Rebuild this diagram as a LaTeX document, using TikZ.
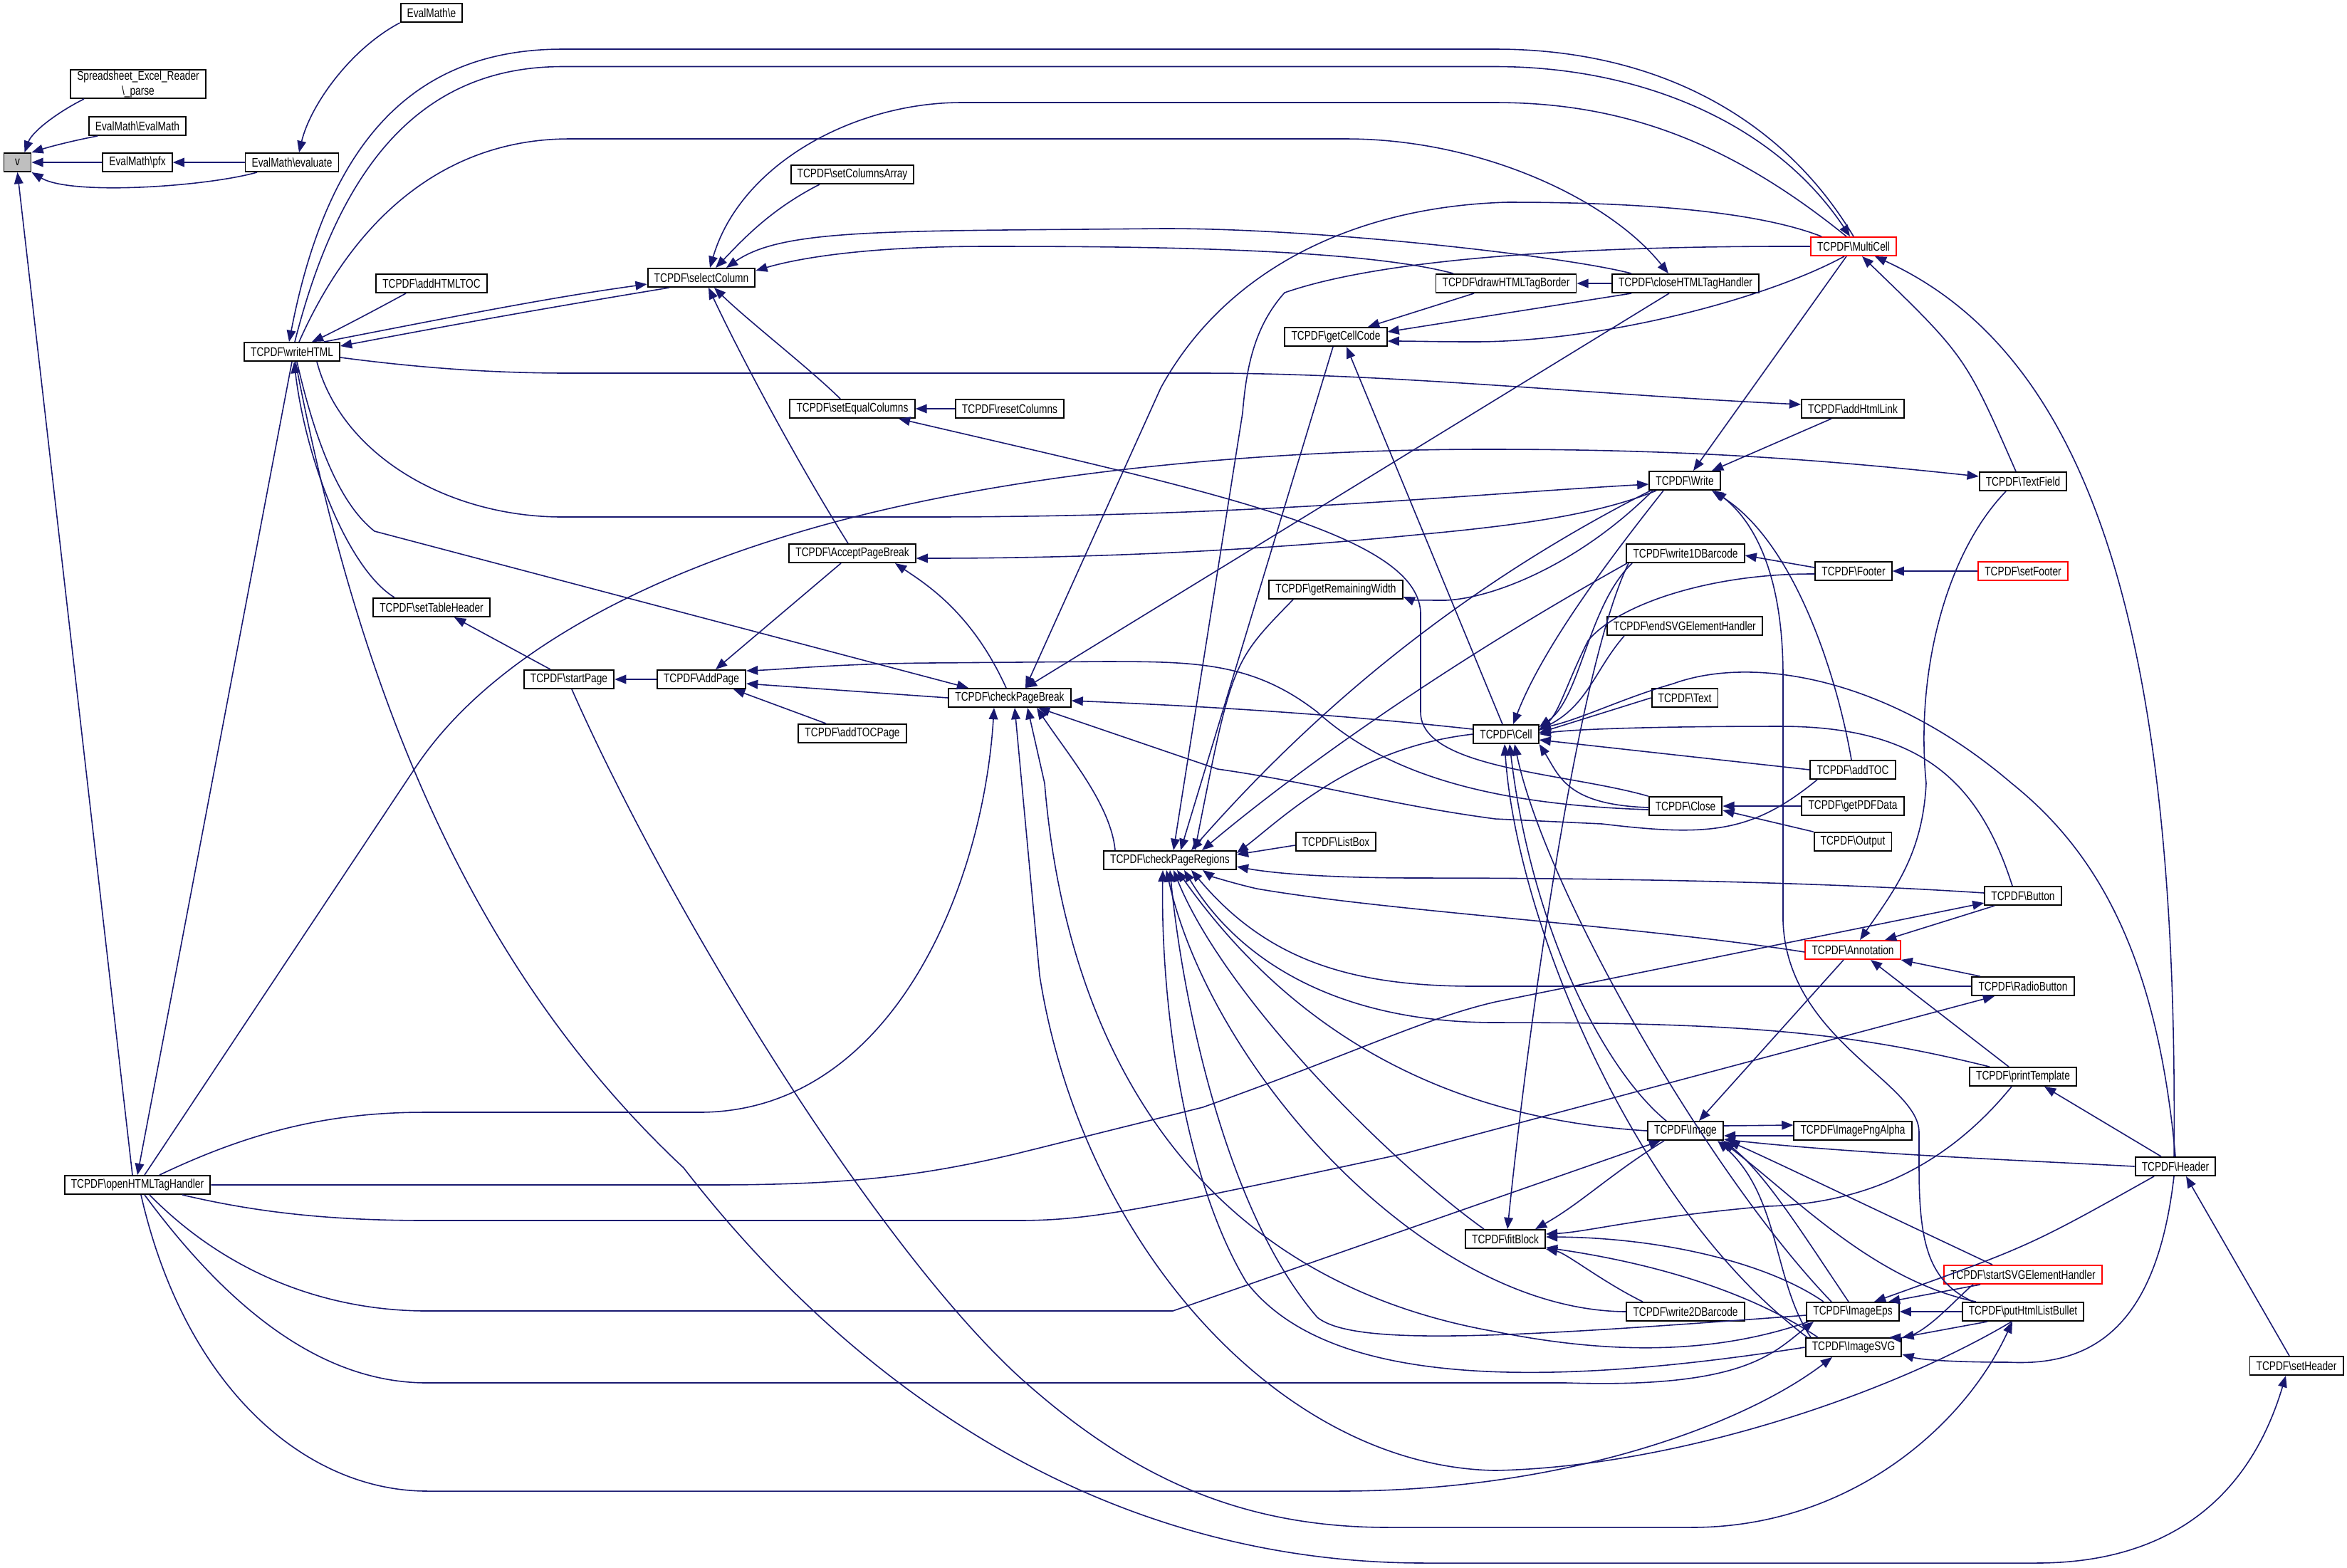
\documentclass[tikz,border=0pt]{standalone}
\usepackage{fontspec}
\setmainfont{Liberation Sans}[FakeStretch=0.78]
\usepackage{tikz}
\usetikzlibrary{arrows.meta}
\definecolor{edgeblue}{HTML}{191970}
\begin{document}
\begin{tikzpicture}[
  fn/.style={draw, fill=white, line width=0.55pt, inner xsep=2.6pt, inner ysep=0pt, minimum height=0.26cm, font=\fontsize{5}{6}\selectfont},
  rn/.style={fn, draw=red},
  edge/.style={draw=edgeblue, line width=0.45pt, -{Triangle[length=4.6pt,width=3.6pt]}}]
  \useasboundingbox (0,0) rectangle (32.96,-22.01);
  \node[fn, fill=black!25, minimum width=0.38cm] (v) at (0.245,-2.28) {v};
  \node[fn, align=center, minimum height=0.4cm] (parse) at (1.94,-1.18) {Spreadsheet\_Excel\_Reader\\\textbackslash\_parse};
  \node[fn] (evalmath) at (1.93,-1.77) {EvalMath\textbackslash EvalMath};
  \node[fn] (pfx) at (1.93,-2.28) {EvalMath\textbackslash pfx};
  \node[fn] (evaluate) at (4.10,-2.28) {EvalMath\textbackslash evaluate};
  \node[fn] (e) at (6.06,-0.18) {EvalMath\textbackslash e};
  \node[fn] (writeHTML) at (4.10,-4.94) {TCPDF\textbackslash writeHTML};
  \node[fn] (addHTMLTOC) at (6.06,-3.98) {TCPDF\textbackslash addHTMLTOC};
  \node[fn] (setTableHeader) at (6.06,-8.53) {TCPDF\textbackslash setTableHeader};
  \node[fn] (startPage) at (7.99,-9.54) {TCPDF\textbackslash startPage};
  \node[fn] (selectColumn) at (9.85,-3.90) {TCPDF\textbackslash selectColumn};
  \node[fn] (AddPage) at (9.85,-9.54) {TCPDF\textbackslash AddPage};
  \node[fn] (setColumnsArray) at (11.97,-2.45) {TCPDF\textbackslash setColumnsArray};
  \node[fn] (setEqualColumns) at (11.97,-5.74) {TCPDF\textbackslash setEqualColumns};
  \node[fn] (AcceptPageBreak) at (11.97,-7.77) {TCPDF\textbackslash AcceptPageBreak};
  \node[fn] (addTOCPage) at (11.97,-10.30) {TCPDF\textbackslash addTOCPage};
  \node[fn] (resetColumns) at (14.18,-5.74) {TCPDF\textbackslash resetColumns};
  \node[fn] (checkPageBreak) at (14.18,-9.80) {TCPDF\textbackslash checkPageBreak};
  \node[fn] (checkPageRegions) at (16.43,-12.08) {TCPDF\textbackslash checkPageRegions};
  \node[fn] (getCellCode) at (18.76,-4.73) {TCPDF\textbackslash getCellCode};
  \node[fn] (getRemainingWidth) at (18.76,-8.28) {TCPDF\textbackslash getRemainingWidth};
  \node[fn] (ListBox) at (18.76,-11.82) {TCPDF\textbackslash ListBox};
  \node[fn] (drawHTMLTagBorder) at (21.15,-3.98) {TCPDF\textbackslash drawHTMLTagBorder};
  \node[fn] (Cell) at (21.15,-10.31) {TCPDF\textbackslash Cell};
  \node[fn] (fitBlock) at (21.14,-17.40) {TCPDF\textbackslash fitBlock};
  \node[fn] (closeHTML) at (23.67,-3.98) {TCPDF\textbackslash closeHTMLTagHandler};
  \node[fn] (Write) at (23.66,-6.75) {TCPDF\textbackslash Write};
  \node[fn] (write1DBarcode) at (23.67,-7.77) {TCPDF\textbackslash write1DBarcode};
  \node[fn] (endSVG) at (23.66,-8.79) {TCPDF\textbackslash endSVGElementHandler};
  \node[fn] (Text) at (23.66,-9.80) {TCPDF\textbackslash Text};
  \node[fn] (Close) at (23.67,-11.32) {TCPDF\textbackslash Close};
  \node[fn] (Image) at (23.67,-15.88) {TCPDF\textbackslash Image};
  \node[fn] (write2DBarcode) at (23.67,-18.42) {TCPDF\textbackslash write2DBarcode};
  \node[rn] (MultiCell) at (26.03,-3.46) {TCPDF\textbackslash MultiCell};
  \node[fn] (addHtmlLink) at (26.02,-5.74) {TCPDF\textbackslash addHtmlLink};
  \node[fn] (Footer) at (26.03,-8.02) {TCPDF\textbackslash Footer};
  \node[fn] (addTOC) at (26.02,-10.81) {TCPDF\textbackslash addTOC};
  \node[fn] (getPDFData) at (26.02,-11.32) {TCPDF\textbackslash getPDFData};
  \node[fn] (Output) at (26.02,-11.82) {TCPDF\textbackslash Output};
  \node[rn] (Annotation) at (26.02,-13.34) {TCPDF\textbackslash Annotation};
  \node[fn] (ImagePngAlpha) at (26.02,-15.88) {TCPDF\textbackslash ImagePngAlpha};
  \node[fn] (ImageEps) at (26.02,-18.42) {TCPDF\textbackslash ImageEps};
  \node[fn] (ImageSVG) at (26.03,-18.92) {TCPDF\textbackslash ImageSVG};
  \node[fn] (TextField) at (28.41,-6.76) {TCPDF\textbackslash TextField};
  \node[rn] (setFooter) at (28.41,-8.02) {TCPDF\textbackslash setFooter};
  \node[fn] (Button) at (28.41,-12.58) {TCPDF\textbackslash Button};
  \node[fn] (RadioButton) at (28.41,-13.85) {TCPDF\textbackslash RadioButton};
  \node[fn] (printTemplate) at (28.41,-15.12) {TCPDF\textbackslash printTemplate};
  \node[rn] (startSVG) at (28.41,-17.90) {TCPDF\textbackslash startSVGElementHandler};
  \node[fn] (putHtmlListBullet) at (28.41,-18.42) {TCPDF\textbackslash putHtmlListBullet};
  \node[fn] (Header) at (30.55,-16.38) {TCPDF\textbackslash Header};
  \node[fn] (setHeader) at (32.25,-19.18) {TCPDF\textbackslash setHeader};
  \node[fn] (openHTML) at (1.93,-16.64) {TCPDF\textbackslash openHTMLTagHandler};
  \draw[edge] ([xshift=-0.76cm]parse.south) .. controls (0.8,-1.58) and (0.45,-1.85) .. ([xshift=0.1cm]v.north);
  \draw[edge] ([xshift=-0.56cm]evalmath.south) .. controls (1.0,-1.98) and (0.7,-2.06) .. (v.north east);
  \draw[edge] (pfx) -- (v);
  \draw[edge] (evaluate) -- (pfx);
  \draw[edge] ([xshift=-0.49cm]evaluate.south) .. controls (2.9,-2.62) and (1.0,-2.75) .. (v.south east);
  \draw[edge] (e.south west) .. controls (4.9,-0.7) and (4.35,-1.5) .. ([xshift=0.1cm]evaluate.north);
  \draw[edge] ([xshift=-0.07cm]openHTML.north) -- (v.south);
  \draw[edge] (writeHTML.south) -- (openHTML.north);
  \draw[edge] (MultiCell.north) .. controls (25.0,-1.6) and (23.2,-0.69) .. (21.0,-0.69) -- (7.9,-0.69) .. controls (5.8,-0.69) and (4.6,-2.0) .. ([xshift=-0.04cm]writeHTML.north);
  \draw[edge] ([xshift=0.04cm]writeHTML.north) .. controls (4.8,-2.2) and (6.0,-0.935) .. (7.9,-0.935) -- (21.0,-0.935) .. controls (23.0,-0.935) and (24.9,-1.7) .. ([xshift=-0.05cm]MultiCell.north);
  \draw[edge] ([xshift=0.1cm]writeHTML.north) .. controls (5.0,-3.0) and (6.3,-1.95) .. (8.0,-1.95) -- (18.9,-1.95) .. controls (20.8,-1.95) and (22.6,-2.8) .. ([xshift=-0.24cm]closeHTML.north);
  \draw[edge] ([xshift=-0.36cm]addHTMLTOC.south) .. controls (5.0,-4.5) and (4.6,-4.7) .. ([xshift=0.28cm]writeHTML.north);
  \draw[edge] ([xshift=0.45cm]writeHTML.north) .. controls (6.3,-4.46) and (7.7,-4.18) .. ([yshift=-0.09cm]selectColumn.west);
  \draw[edge] ([xshift=-0.45cm]selectColumn.south) .. controls (7.7,-4.32) and (6.3,-4.57) .. ([yshift=0.08cm]writeHTML.east);
  \draw[edge] ([yshift=-0.08cm]writeHTML.east) .. controls (6.0,-5.18) and (7.0,-5.24) .. (8.0,-5.24) -- (16.9,-5.24) .. controls (19.5,-5.24) and (22.5,-5.55) .. ([yshift=0.06cm]addHtmlLink.west);
  \draw[edge] ([xshift=0.35cm]writeHTML.south) .. controls (4.8,-6.4) and (6.3,-7.26) .. (7.9,-7.26) -- (13.0,-7.26) .. controls (17.5,-7.26) and (20.5,-6.95) .. ([yshift=-0.05cm]Write.west);
  \draw[edge] ([xshift=0.07cm]writeHTML.south) .. controls (4.45,-6.3) and (4.8,-7.1) .. (5.26,-7.46) -- ([xshift=-0.58cm]checkPageBreak.north);
  \draw[edge] ([xshift=-0.52cm]setTableHeader.north) .. controls (4.9,-8.0) and (4.3,-6.5) .. ([xshift=0.03cm]writeHTML.south);
  \draw[edge] ([xshift=0.05cm]writeHTML.south) .. controls (5.0,-9.5) and (6.5,-13.5) .. (9.6,-16.4) .. controls (12.0,-19.5) and (15.5,-21.95) .. (20.0,-21.95) -- (28.6,-21.95) .. controls (30.5,-21.95) and (31.6,-21.0) .. ([xshift=-0.15cm]setHeader.south);
  \draw[edge] ([xshift=0.04cm]startPage.south) .. controls (9.5,-13.0) and (12.5,-17.8) .. (14.5,-19.5) .. controls (16.0,-20.8) and (17.5,-21.45) .. (19.5,-21.45) -- (23.75,-21.45) .. controls (26.0,-21.45) and (27.6,-20.0) .. ([xshift=-0.15cm]putHtmlListBullet.south);
  \draw[edge] ([xshift=-0.1cm]MultiCell.north) .. controls (24.3,-2.0) and (22.8,-1.44) .. (21.0,-1.44) -- (13.5,-1.44) .. controls (12.0,-1.44) and (10.4,-2.3) .. ([xshift=0.12cm]selectColumn.north);
  \draw[edge] ([xshift=-0.46cm]setColumnsArray.south) .. controls (10.8,-2.95) and (10.4,-3.4) .. ([xshift=0.2cm]selectColumn.north);
  \draw[edge] ([xshift=-0.76cm]closeHTML.north) .. controls (22.0,-3.6) and (18.5,-3.2) .. (16.3,-3.21) .. controls (12.5,-3.25) and (11.0,-3.2) .. ([xshift=0.35cm]selectColumn.north);
  \draw[edge] ([xshift=-0.74cm]drawHTMLTagBorder.north) .. controls (19.0,-3.46) and (15.5,-3.46) .. (13.83,-3.46) .. controls (12.3,-3.46) and (11.3,-3.6) .. ([yshift=0.1cm]selectColumn.east);
  \draw[edge] ([xshift=-0.17cm]setEqualColumns.north) .. controls (11.4,-5.2) and (10.5,-4.5) .. ([xshift=0.18cm]selectColumn.south);
  \draw[edge] ([xshift=-0.06cm]AcceptPageBreak.north) .. controls (11.2,-6.5) and (10.4,-5.0) .. ([xshift=0.1cm]selectColumn.south);
  \draw[edge] (resetColumns) -- (setEqualColumns);
  \draw[edge] (Close.north west) .. controls (22.0,-10.85) and (19.95,-10.8) .. (19.95,-10.0) -- (19.95,-8.6) .. controls (19.9,-7.5) and (17.0,-6.9) .. ([xshift=0.65cm]setEqualColumns.south);
  \draw[edge] ([yshift=-0.05cm]Close.west) .. controls (21.0,-11.3) and (19.5,-10.9) .. (18.5,-10.0) .. controls (17.6,-9.3) and (16.8,-9.29) .. (15.5,-9.29) -- (13.06,-9.31) .. controls (11.8,-9.32) and (11.0,-9.4) .. ([yshift=0.12cm]AddPage.east);
  \draw[edge] ([xshift=-0.5cm]addTOC.south) .. controls (24.6,-11.7) and (24.0,-11.75) .. (22.5,-11.57) -- (21.0,-11.5) .. controls (19.5,-11.3) and (18.5,-11.0) .. (17.1,-10.8) -- ([xshift=0.4cm]checkPageBreak.south);
  \draw[edge] (getPDFData) -- (Close);
  \draw[edge] (Output.north west) -- ([yshift=-0.06cm]Close.east);
  \draw[edge] ([xshift=-0.05cm]checkPageBreak.north) .. controls (13.65,-8.6) and (13.0,-8.2) .. ([xshift=0.6cm]AcceptPageBreak.south);
  \draw[edge] (checkPageBreak.west) -- ([yshift=-0.06cm]AddPage.east);
  \draw[edge] ([xshift=-0.16cm]AcceptPageBreak.south) -- ([xshift=0.2cm]AddPage.north);
  \draw[edge] ([xshift=-0.37cm]addTOCPage.north) -- ([xshift=0.45cm]AddPage.south);
  \draw[edge] (AddPage) -- (startPage);
  \draw[edge] ([xshift=-0.26cm]startPage.north) -- ([xshift=0.32cm]setTableHeader.south);
  \draw[edge] ([yshift=0.07cm]Cell.west) .. controls (18.5,-10.0) and (16.5,-9.9) .. ([yshift=-0.04cm]checkPageBreak.east);
  \draw[edge] ([xshift=-0.45cm]MultiCell.north) .. controls (24.5,-2.9) and (22.5,-2.84) .. (21.17,-2.84) .. controls (19.0,-2.9) and (17.2,-3.8) .. (16.3,-5.45) -- ([xshift=0.22cm]checkPageBreak.north);
  \draw[edge] ([xshift=-0.23cm]closeHTML.south) -- ([xshift=0.22cm]checkPageBreak.north);
  \draw[edge] ([xshift=-0.77cm]checkPageRegions.north) .. controls (15.6,-11.3) and (15.0,-10.6) .. ([xshift=0.38cm]checkPageBreak.south);
  \draw[edge] ([xshift=-0.16cm]putHtmlListBullet.south) .. controls (26.5,-19.6) and (23.5,-20.6) .. (21.0,-20.65) .. controls (18.0,-20.6) and (15.2,-17.5) .. (14.6,-13.7) -- ([xshift=0.07cm]checkPageBreak.south);
  \draw[edge] ([xshift=-0.62cm]ImageEps.south) .. controls (24.0,-19.05) and (22.5,-19.0) .. (21.0,-18.7) .. controls (17.0,-18.0) and (15.0,-15.0) .. (14.67,-11.0) -- ([xshift=0.25cm]checkPageBreak.south);
  \draw[edge] ([xshift=-0.05cm]Cell.north) -- ([xshift=0.15cm]getCellCode.south);
  \draw[edge] ([xshift=-0.13cm]MultiCell.south) .. controls (24.8,-4.2) and (22.5,-4.8) .. (20.7,-4.8) .. controls (20.2,-4.8) and (19.8,-4.79) .. ([yshift=-0.06cm]getCellCode.east);
  \draw[edge] ([xshift=-0.76cm]closeHTML.south) -- ([yshift=0.07cm]getCellCode.east);
  \draw[edge] ([xshift=-0.45cm]drawHTMLTagBorder.south) -- ([xshift=0.45cm]getCellCode.north);
  \draw[edge] (closeHTML) -- (drawHTMLTagBorder);
  \draw[edge] (MultiCell.west) .. controls (22.5,-3.45) and (19.5,-3.6) .. (18.04,-4.11) .. controls (17.6,-4.6) and (17.5,-5.2) .. (17.45,-5.8) -- ([xshift=0.05cm]checkPageRegions.north);
  \draw[edge] ([xshift=-0.04cm]getCellCode.south) -- ([xshift=0.15cm]checkPageRegions.north);
  \draw[edge] ([xshift=-0.6cm]getRemainingWidth.south) .. controls (17.3,-9.3) .. ([xshift=0.35cm]checkPageRegions.north);
  \draw[edge] ([xshift=-0.45cm]Write.south) .. controls (22.2,-7.9) and (21.0,-8.4) .. (20.3,-8.43) .. controls (19.9,-8.43) and (19.8,-8.42) .. ([yshift=-0.1cm]getRemainingWidth.east);
  \draw[edge] ([xshift=-0.4cm]Write.south) .. controls (22.5,-7.2) and (21.5,-7.36) .. (20.0,-7.5) .. controls (17.0,-7.8) and (14.5,-7.84) .. ([yshift=-0.07cm]AcceptPageBreak.east);
  \draw[edge] ([xshift=-0.3cm]addHtmlLink.south) -- ([xshift=0.38cm]Write.north);
  \draw[edge] ([xshift=-0.1cm]MultiCell.south) -- ([xshift=0.12cm]Write.north);
  \draw[edge] ([xshift=-0.7cm]putHtmlListBullet.north) .. controls (27.1,-18.0) and (26.95,-17.5) .. (26.95,-16.4) -- (26.95,-15.9) .. controls (26.95,-15.2) and (25.1,-14.6) .. (25.04,-12.94) -- (25.04,-9.5) .. controls (25.04,-8.0) and (24.6,-7.3) .. ([xshift=0.42cm]Write.south);
  \draw[edge] ([xshift=-0.02cm]addTOC.north) .. controls (25.8,-9.5) and (25.2,-7.6) .. ([xshift=0.38cm]Write.south);
  \draw[edge] ([xshift=0.1cm]openHTML.north) -- (5.82,-10.8) .. controls (7.0,-9.0) and (9.5,-8.0) .. (11.0,-7.54) .. controls (14.0,-6.6) and (18.0,-6.3) .. (21.0,-6.31) .. controls (24.0,-6.31) and (26.0,-6.5) .. ([yshift=0.07cm]TextField.west);
  \draw[edge] ([xshift=-0.1cm]TextField.north) .. controls (27.6,-5.0) .. ([xshift=0.12cm]MultiCell.south);
  \draw[edge] ([xshift=-0.02cm]Header.north) .. controls (30.6,-9.0) and (29.4,-5.0) .. ([xshift=0.3cm]MultiCell.south);
  \draw[edge] ([xshift=-0.24cm]TextField.south) .. controls (27.3,-7.8) and (26.9,-9.5) .. (27.05,-11.0) .. controls (27.0,-12.0) and (26.6,-12.5) .. ([xshift=0.1cm]Annotation.north);
  \draw[edge] ([xshift=-0.4cm]Button.south) -- ([xshift=0.45cm]Annotation.north);
  \draw[edge] ([xshift=-0.6cm]RadioButton.north) -- (Annotation.south east);
  \draw[edge] ([xshift=-0.2cm]printTemplate.north) -- ([xshift=0.25cm]Annotation.south);
  \draw[edge] ([xshift=-0.13cm]Annotation.south) -- ([xshift=0.19cm]Image.north);
  \draw[edge] ([yshift=-0.03cm]Annotation.west) .. controls (23.0,-13.0) and (19.5,-12.8) .. (17.65,-12.48) .. controls (17.3,-12.4) and (17.0,-12.3) .. ([xshift=0.46cm]checkPageRegions.south);
  \draw[edge] ([yshift=0.04cm]Button.west) .. controls (25.0,-12.35) and (21.5,-12.33) .. (19.95,-12.33) .. controls (18.5,-12.33) and (17.8,-12.25) .. ([yshift=-0.09cm]checkPageRegions.east);
  \draw[edge] (RadioButton.west) -- (20.71,-13.85) .. controls (19.0,-13.85) and (17.8,-13.5) .. ([xshift=0.3cm]checkPageRegions.south);
  \draw[edge] ([xshift=-0.47cm]printTemplate.north) .. controls (26.0,-14.5) and (24.5,-14.36) .. (21.0,-14.36) .. controls (18.8,-14.36) and (17.4,-13.5) .. ([xshift=0.2cm]checkPageRegions.south);
  \draw[edge] ([yshift=-0.05cm]ListBox.west) -- ([yshift=0.08cm]checkPageRegions.east);
  \draw[edge] ([xshift=-0.2cm]Header.north) -- ([xshift=0.3cm]printTemplate.south);
  \draw[edge] ([xshift=-0.16cm]printTemplate.south) .. controls (27.4,-16.3) and (26.3,-16.9) .. (24.81,-16.94) .. controls (23.0,-17.1) and (22.3,-17.3) .. ([yshift=0.07cm]fitBlock.east);
  \draw[edge] ([yshift=0.07cm]Image.east) -- ([yshift=0.08cm]ImagePngAlpha.west);
  \draw[edge] ([yshift=-0.07cm]ImagePngAlpha.west) -- ([yshift=-0.07cm]Image.east);
  \draw[edge] (Header.west) .. controls (28.5,-16.3) and (26.0,-16.2) .. ([yshift=-0.12cm]Image.east);
  \draw[edge] ([xshift=-0.06cm]ImageEps.north) .. controls (25.3,-17.3) and (24.8,-16.5) .. (Image.south east);
  \draw[edge] ([xshift=-0.6cm]ImageSVG.north) .. controls (24.9,-18.0) and (25.0,-16.8) .. ([xshift=0.45cm]Image.south);
  \draw[edge] ([xshift=-0.43cm]startSVG.north) .. controls (25.58,-16.63) and (24.9,-16.3) .. ([xshift=0.6cm]Image.south);
  \draw[edge] ([xshift=-0.66cm]putHtmlListBullet.north) .. controls (26.3,-17.98) and (25.2,-16.8) .. ([xshift=0.5cm]Image.south);
  \draw[edge] ([xshift=-0.27cm]Image.north) .. controls (22.5,-15.0) and (21.5,-13.0) .. ([xshift=0.05cm]Cell.south);
  \draw[edge] (Image.west) .. controls (21.0,-15.75) and (18.5,-15.0) .. ([xshift=0.1cm]checkPageRegions.south);
  \draw[edge] ([xshift=0.17cm]openHTML.south) .. controls (3.2,-17.9) and (4.6,-18.41) .. (6.0,-18.41) -- (16.47,-18.41) -- ([xshift=-0.35cm]Image.south);
  \draw[edge] (openHTML.east) -- (10.0,-16.64) .. controls (12.0,-16.64) and (13.0,-16.5) .. (14.28,-16.2) -- (16.89,-15.55) .. controls (19.0,-14.8) and (20.0,-14.3) .. (21.0,-14.07) -- ([yshift=-0.1cm]Button.west);
  \draw[edge] ([xshift=0.63cm]openHTML.south) .. controls (3.5,-17.0) and (4.5,-17.14) .. (6.0,-17.14) -- (14.28,-17.14) .. controls (15.3,-17.14) and (16.0,-17.0) .. (19.72,-16.2) -- ([xshift=-0.4cm]RadioButton.south);
  \draw[edge] ([xshift=0.1cm]openHTML.south) .. controls (3.3,-18.5) and (4.6,-19.42) .. (6.0,-19.42) -- (22.0,-19.42) .. controls (24.5,-19.5) and (24.9,-19.0) .. ([xshift=-0.55cm]ImageEps.south);
  \draw[edge] ([xshift=0.05cm]openHTML.south) .. controls (2.6,-19.5) and (4.3,-20.94) .. (6.0,-20.94) -- (18.8,-20.94) .. controls (22.0,-20.94) and (24.5,-20.0) .. ([xshift=-0.3cm]ImageSVG.south);
  \draw[edge] ([xshift=0.31cm]openHTML.north) .. controls (3.5,-15.9) and (4.6,-15.62) .. (5.96,-15.62) -- (9.82,-15.62) .. controls (12.5,-15.62) and (13.8,-12.5) .. ([xshift=-0.22cm]checkPageBreak.south);
  \draw[edge] ([xshift=-0.8cm]write1DBarcode.south) .. controls (22.1,-9.5) and (21.4,-15.0) .. ([xshift=0.03cm]fitBlock.north);
  \draw[edge] ([xshift=-0.3cm]fitBlock.north) .. controls (19.5,-16.3) and (17.2,-14.0) .. ([xshift=0.05cm]checkPageRegions.south);
  \draw[edge] ([xshift=-0.3cm]Image.south) .. controls (22.6,-16.5) and (22.2,-16.9) .. ([xshift=0.42cm]fitBlock.north);
  \draw[edge] ([xshift=-0.41cm]ImageEps.north) .. controls (24.8,-17.72) and (23.3,-17.38) .. ([yshift=0.03cm]fitBlock.east);
  \draw[edge] ([xshift=-0.5cm]ImageSVG.north) .. controls (24.6,-18.16) and (23.3,-17.75) .. ([yshift=-0.12cm]fitBlock.east);
  \draw[edge] ([xshift=-0.6cm]write2DBarcode.north) .. controls (22.5,-18.0) and (22.0,-17.6) .. (fitBlock.south east);
  \draw[edge] ([yshift=0.05cm]Footer.west) -- ([yshift=-0.03cm]write1DBarcode.east);
  \draw[edge] (setFooter) -- (Footer);
  \draw[edge] ([yshift=-0.04cm]Footer.west) .. controls (24.0,-8.05) and (22.7,-8.5) .. (22.3,-9.0) .. controls (22.0,-9.6) and (21.9,-10.0) .. ([yshift=0.05cm]Cell.east);
  \draw[edge] ([xshift=-0.3cm]Write.south) .. controls (22.8,-7.6) and (21.7,-9.0) .. ([xshift=0.1cm]Cell.north);
  \draw[edge] ([xshift=-0.75cm]write1DBarcode.south) .. controls (22.3,-8.5) and (22.2,-9.8) .. ([yshift=0.1cm]Cell.east);
  \draw[edge] ([xshift=-0.85cm]endSVG.south) .. controls (22.4,-9.4) and (22.3,-9.9) .. ([yshift=0.06cm]Cell.east);
  \draw[edge] (Text.west) -- ([yshift=0.02cm]Cell.east);
  \draw[edge] ([xshift=-0.15cm]Button.north) .. controls (27.8,-11.0) and (27.0,-10.2) .. (25.0,-10.2) .. controls (23.0,-10.2) and (22.0,-10.25) .. (Cell.east);
  \draw[edge] (addTOC.west) -- ([yshift=-0.08cm]Cell.east);
  \draw[edge] ([yshift=-0.02cm]Close.west) .. controls (22.0,-11.3) and (21.9,-10.9) .. (Cell.south east);
  \draw[edge] (Header.north) .. controls (30.3,-13.5) and (29.5,-12.0) .. (28.25,-11.0) .. controls (26.5,-9.5) and (24.6,-9.2) .. (23.5,-9.6) .. controls (22.8,-9.8) and (22.2,-10.1) .. ([yshift=0.08cm]Cell.east);
  \draw[edge] ([xshift=-0.3cm]ImageEps.north) .. controls (24.0,-16.5) and (21.7,-12.5) .. ([xshift=0.12cm]Cell.south);
  \draw[edge] ([xshift=-0.65cm]ImageSVG.north) .. controls (23.0,-17.0) and (21.3,-13.0) .. ([xshift=-0.02cm]Cell.south);
  \draw[edge] ([xshift=-0.48cm]Write.south) .. controls (20.0,-8.5) and (18.0,-10.5) .. ([xshift=0.3cm]checkPageRegions.north);
  \draw[edge] ([xshift=-0.82cm]write1DBarcode.south) .. controls (20.0,-9.5) and (18.0,-11.0) .. ([xshift=0.45cm]checkPageRegions.north);
  \draw[edge] (Cell.west) .. controls (19.0,-10.5) and (18.0,-11.5) .. ([yshift=0.1cm]checkPageRegions.east);
  \draw[edge] (write2DBarcode.west) .. controls (20.0,-18.4) and (17.0,-15.0) .. ([xshift=-0.05cm]checkPageRegions.south);
  \draw[edge] ([yshift=-0.05cm]ImageEps.west) .. controls (21.0,-18.8) and (19.0,-18.9) .. (18.5,-18.5) .. controls (17.2,-17.0) and (16.6,-14.0) .. (checkPageRegions.south);
  \draw[edge] (ImageSVG.west) .. controls (21.0,-19.6) and (18.5,-19.3) .. (17.5,-18.0) .. controls (16.6,-16.5) and (16.3,-14.0) .. ([xshift=-0.1cm]checkPageRegions.south);
  \draw[edge] (putHtmlListBullet) -- (ImageEps);
  \draw[edge] ([xshift=-0.6cm]startSVG.south) -- ([xshift=0.5cm]ImageEps.north);
  \draw[edge] ([xshift=-0.7cm]startSVG.south) .. controls (27.5,-18.2) and (27.0,-18.8) .. ([xshift=0.5cm]ImageSVG.north);
  \draw[edge] ([xshift=-0.5cm]putHtmlListBullet.south) -- (ImageSVG.north east);
  \draw[edge] ([xshift=-0.3cm]Header.south) .. controls (28.5,-17.5) .. ([xshift=0.3cm]ImageEps.north);
  \draw[edge] ([xshift=-0.02cm]Header.south) .. controls (30.3,-18.5) and (29.5,-19.2) .. (28.2,-19.13) .. controls (27.5,-19.13) and (27.0,-19.1) .. ([yshift=-0.1cm]ImageSVG.east);
  \draw[edge] ([xshift=-0.1cm]setHeader.north) -- ([xshift=0.15cm]Header.south);
\end{tikzpicture}
\end{document}
